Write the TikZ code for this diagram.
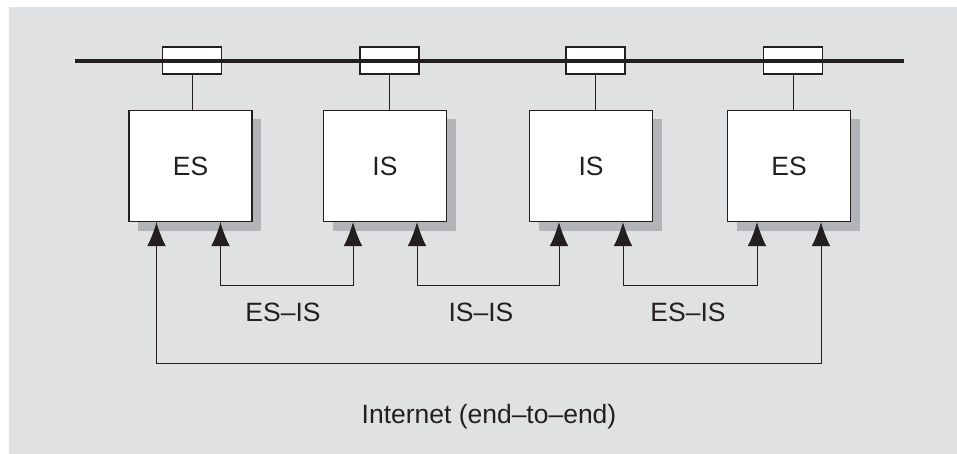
\documentclass[tikz,border=0pt]{standalone}
\usepackage{fontspec}
\setmainfont{Liberation Sans}
\usetikzlibrary{arrows.meta,shadows}
\definecolor{bggray}{RGB}{224,225,227}
\definecolor{shade}{RGB}{179,180,183}
\definecolor{ink}{RGB}{35,31,32}
\tikzset{
	>={Latex[length=0.72cm,width=0.56cm]},
	sysbox/.style={draw=ink, fill=white, line width=1.1pt, minimum width=3.69cm, minimum height=3.33cm, drop shadow={shadow xshift=0.27cm, shadow yshift=-0.27cm, fill=shade, opacity=1}, font=\fontsize{22.6}{27}\selectfont, text=ink},
	port/.style={draw=ink, fill=white, line width=1.1pt, minimum width=1.77cm, minimum height=0.81cm, inner sep=0pt},
	bus/.style={draw=ink, line width=3.8pt},
	stub/.style={draw=ink, line width=0.8pt},
	link/.style={draw=ink, line width=0.8pt, <->},
	lbl/.style={text=ink, font=\fontsize{22.6}{27}\selectfont}
}
\begin{document}
\begin{tikzpicture}[x=0.03cm,y=-0.03cm]
		\useasboundingbox (0,0) rectangle (957,454);
		\fill[bggray] (9,7) rectangle (957,454);

		\node[port] (p1) at (192,60.5) {};
		\node[port] (p2) at (389.5,60.5) {};
		\node[port] (p3) at (595.5,60.5) {};
		\node[port] (p4) at (793,60.5) {};

		\coordinate (busl) at (75,61);
		\coordinate (busr) at (904,61);
		\draw[bus] (busl) -- (busr);

		\node[sysbox] (es1) at (190.5,166) {ES};
		\node[sysbox] (is2) at (385,166) {IS};
		\node[sysbox] (is3) at (591,166) {IS};
		\node[sysbox] (es4) at (789,166) {ES};

		\draw[stub] (p1.south) -- (p1.south |- es1.north);
		\draw[stub] (p2.south) -- (p2.south |- is2.north);
		\draw[stub] (p3.south) -- (p3.south |- is3.north);
		\draw[stub] (p4.south) -- (p4.south |- es4.north);

		\coordinate (es1l) at ([xshift=-1.02cm]es1.south);
		\coordinate (es1r) at ([xshift=0.9cm]es1.south);
		\coordinate (is2l) at ([xshift=-0.96cm]is2.south);
		\coordinate (is2r) at ([xshift=0.96cm]is2.south);
		\coordinate (is3l) at ([xshift=-0.96cm]is3.south);
		\coordinate (is3r) at ([xshift=0.96cm]is3.south);
		\coordinate (es4l) at ([xshift=-0.96cm]es4.south);
		\coordinate (es4r) at ([xshift=0.96cm]es4.south);

		\draw[link] (es1r) -- ++(0,63) -| (is2l);
		\draw[link] (is2r) -- ++(0,63) -| (is3l);
		\draw[link] (is3r) -- ++(0,63) -| (es4l);
		\draw[link] (es1l) -- ++(0,141) -| (es4r);

		\node[lbl] (esis1) at (283,312) {ES–IS};
		\node[lbl] (isis) at (481,312) {IS–IS};
		\node[lbl] (esis2) at (688,312) {ES–IS};
		\node[lbl] (inet) at (489,417) {Internet (end–to–end)};
	\end{tikzpicture}
\end{document}
